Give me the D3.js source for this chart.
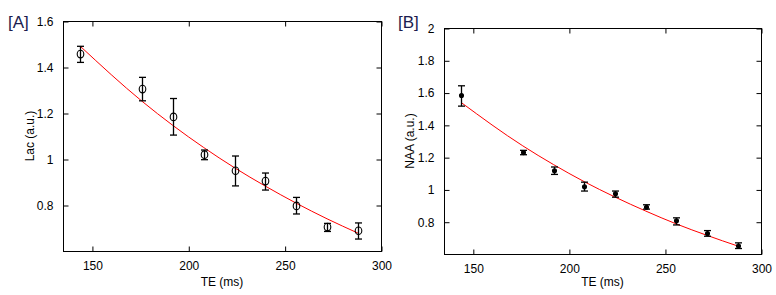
<!DOCTYPE html>
<html>
<head>
<meta charset="utf-8">
<script src="https://cdn.jsdelivr.net/npm/d3@7"></script>
<style>
  body { margin: 0; background: #fff; }
  svg { display: block; font-family: "Liberation Sans", Arial, sans-serif; }
</style>
</head>
<body>
<svg width="776" height="295"></svg>
<script>
// Echo times (ms), shared by both panels
var te = [144, 176, 192, 208, 224, 240, 256, 272, 288];

// Panel A: lactate
var lacMean = [1.456, 1.304, 1.183, 1.019, 0.949, 0.904, 0.796, 0.704, 0.688];
var lacLow  = [1.420, 1.253, 1.104, 0.997, 0.883, 0.865, 0.761, 0.685, 0.652];
var lacHigh = [1.490, 1.355, 1.263, 1.039, 1.013, 0.939, 0.833, 0.720, 0.722];
var lacFit  = [1.490, 1.251, 1.146, 1.050, 0.962, 0.882, 0.808, 0.740, 0.678];

// Panel B: NAA
var naaMean = [1.582, 1.228, 1.116, 1.017, 0.973, 0.890, 0.806, 0.727, 0.650];
var naaLow  = [1.516, 1.215, 1.093, 0.990, 0.952, 0.878, 0.780, 0.710, 0.634];
var naaHigh = [1.642, 1.242, 1.139, 1.045, 0.990, 0.905, 0.824, 0.745, 0.669];
var naaFit  = [1.538, 1.270, 1.154, 1.048, 0.953, 0.866, 0.786, 0.715, 0.649];

var xTicks = [150, 200, 250, 300];
var lacTicks = [0.8, 1, 1.2, 1.4, 1.6];
var naaTicks = [0.8, 1, 1.2, 1.4, 1.6, 1.8, 2];

var svg = d3.select("svg");

function panel(opt) {
  var x = d3.scaleLinear().domain([135, 300]).range([opt.left, opt.right]);
  var y = d3.scaleLinear().domain(opt.yDomain).range([opt.bottom, opt.top]);
  var g = svg.append("g");
  var tick = 5;

  // box
  g.append("rect")
    .attr("x", opt.left + 0.5).attr("y", opt.top + 0.5)
    .attr("width", opt.right - opt.left).attr("height", opt.bottom - opt.top)
    .attr("fill", "none").attr("stroke", "#000").attr("stroke-width", 1);

  // inward ticks on all four sides
  var axes = [
    d3.axisBottom(x).tickValues(xTicks).tickSize(-tick).tickPadding(10),
    d3.axisTop(x).tickValues(xTicks).tickSize(-tick).tickFormat("")
  ];
  g.append("g").attr("transform", "translate(0.5," + (opt.bottom + 0.5) + ")").call(axes[0]);
  g.append("g").attr("transform", "translate(0.5," + (opt.top + 0.5) + ")").call(axes[1]);
  g.append("g").attr("transform", "translate(" + (opt.left + 0.5) + ",0.5)")
    .call(d3.axisLeft(y).tickValues(opt.yTicks).tickSize(-tick).tickPadding(10).tickFormat(d3.format("")));
  g.append("g").attr("transform", "translate(" + (opt.right + 0.5) + ",0.5)")
    .call(d3.axisRight(y).tickValues(opt.yTicks).tickSize(-tick).tickFormat(""));
  g.selectAll(".domain").remove();
  g.selectAll(".tick line").attr("stroke", "#000");
  g.selectAll(".tick text").attr("fill", "#000").style("font-size", "12px")
    .style("font-family", "'Liberation Sans', Arial, sans-serif");

  // axis titles
  g.append("text")
    .attr("x", (opt.left + opt.right) / 2).attr("y", 286)
    .attr("text-anchor", "middle").style("font-size", "12px")
    .text("TE (ms)");
  g.append("text")
    .attr("transform", "translate(" + opt.yLabelX + "," + ((opt.top + opt.bottom) / 2) + ") rotate(-90)")
    .attr("text-anchor", "middle").style("font-size", "12px")
    .text(opt.yLabel);

  // panel letter
  g.append("text")
    .attr("x", opt.tagX).attr("y", 28)
    .style("font-size", "17px").attr("fill", "#1c1c4e")
    .text(opt.tag);

  // fitted curve
  var line = d3.line()
    .x(function(d, i) { return x(te[i]); })
    .y(function(d) { return y(d); })
    .curve(d3.curveMonotoneX);
  g.append("path")
    .attr("d", line(opt.fit))
    .attr("fill", "none").attr("stroke", "#ff0000").attr("stroke-width", 1);

  // error bars
  var eb = g.append("g").attr("stroke", "#000").attr("stroke-width", 1.3);
  te.forEach(function(t, i) {
    var cx = Math.round(x(t)) + 0.5;
    eb.append("line").attr("x1", cx).attr("x2", cx)
      .attr("y1", y(opt.low[i])).attr("y2", y(opt.high[i]));
    eb.append("line").attr("x1", cx - 3.5).attr("x2", cx + 3.5)
      .attr("y1", y(opt.low[i])).attr("y2", y(opt.low[i]));
    eb.append("line").attr("x1", cx - 3.5).attr("x2", cx + 3.5)
      .attr("y1", y(opt.high[i])).attr("y2", y(opt.high[i]));
  });

  // markers
  g.selectAll(".pt").data(opt.mean).enter().append("ellipse")
    .attr("cx", function(d, i) { return Math.round(x(te[i])) + 0.5; })
    .attr("cy", function(d) { return y(d); })
    .attr("rx", opt.open ? 3.3 : 2)
    .attr("ry", opt.open ? 3.8 : 2)
    .attr("fill", opt.open ? "none" : "#000")
    .attr("stroke", "#000").attr("stroke-width", 1.1);
}

panel({
  left: 63, right: 381, top: 21, bottom: 251,
  yDomain: [0.6, 1.6], yTicks: lacTicks,
  mean: lacMean, low: lacLow, high: lacHigh, fit: lacFit,
  yLabel: "Lac (a.u.)", yLabelX: 34, tag: "[A]", tagX: 8, open: true
});

panel({
  left: 444, right: 761, top: 28, bottom: 254,
  yDomain: [0.6, 2], yTicks: naaTicks,
  mean: naaMean, low: naaLow, high: naaHigh, fit: naaFit,
  yLabel: "NAA (a.u.)", yLabelX: 414, tag: "[B]", tagX: 398, open: false
});
</script>
</body>
</html>
